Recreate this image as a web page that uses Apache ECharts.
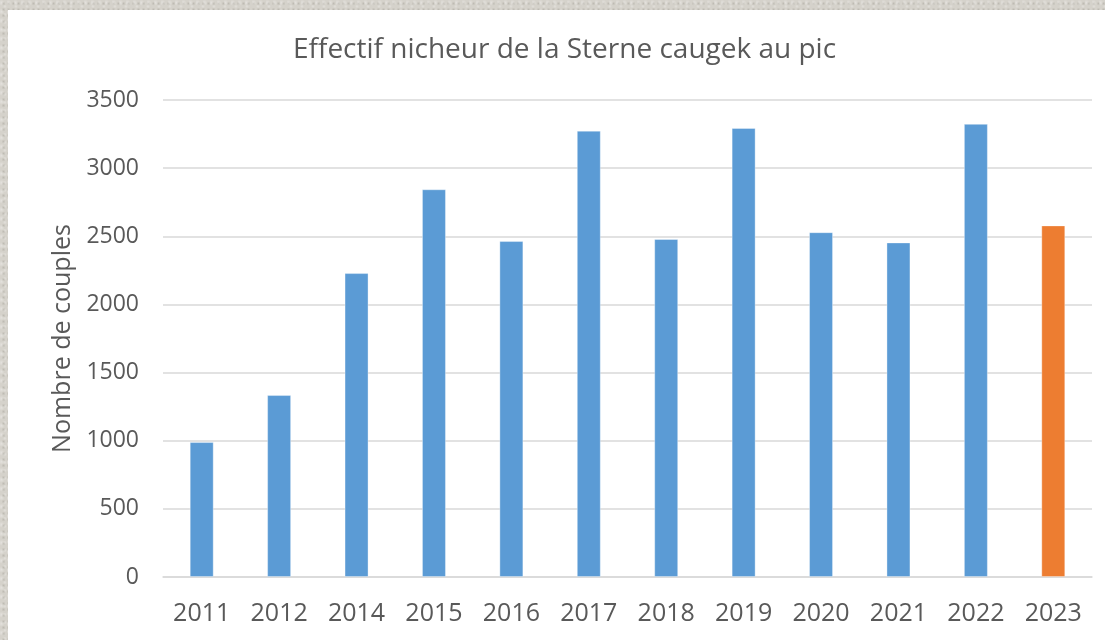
<!DOCTYPE html>
<html>
<head>
<meta charset="utf-8">
<title>Effectif nicheur de la Sterne caugek au pic</title>
<script src="https://cdn.jsdelivr.net/npm/echarts@6/dist/echarts.min.js"></script>
<style>
  html, body { margin: 0; padding: 0; width: 1105px; height: 640px; overflow: hidden; }
  body {
    background-color: #d5d2cb;
    background-image:
      radial-gradient(circle at 20% 30%, rgba(255,255,255,0.35) 0, rgba(255,255,255,0) 3px),
      radial-gradient(circle at 70% 60%, rgba(120,115,105,0.25) 0, rgba(120,115,105,0) 2px),
      radial-gradient(circle at 45% 80%, rgba(255,255,255,0.3) 0, rgba(255,255,255,0) 2px);
    background-size: 7px 9px, 5px 6px, 11px 8px;
  }
  #panel {
    position: absolute; left: 8px; top: 10px; width: 1097px; height: 630px;
    background: #ffffff;
  }
  #chart { width: 100%; height: 100%; }
</style>
</head>
<body>
<div id="panel"><div id="chart"></div></div>
<script>
// Nesting pairs of Sandwich tern (Sterne caugek) counted at the peak, per year
const years = ['2011', '2012', '2014', '2015', '2016', '2017', '2018', '2019', '2020', '2021', '2022', '2023'];
const couples = [990, 1335, 2230, 2845, 2465, 3275, 2480, 3295, 2530, 2455, 3325, 2580];
const currentYear = '2023';
const yTicks = [0, 500, 1000, 1500, 2000, 2500, 3000, 3500];

const blue = '#5B9BD5';
const orange = '#ED7D31';
const textGrey = '#595959';
const gridGrey = '#D9D9D9';
const fontFamily = '"Open Sans", "Segoe UI", sans-serif';

const barData = couples.map((v, i) => ({
  value: v,
  itemStyle: { color: years[i] === currentYear ? orange : blue }
}));

const chart = echarts.init(document.getElementById('chart'), null, { renderer: 'canvas' });
chart.setOption({
  animation: false,
  backgroundColor: '#ffffff',
  title: {
    text: 'Effectif nicheur de la Sterne caugek au pic',
    left: 280,
    top: 21,
    textStyle: { fontFamily, fontSize: 28, fontWeight: 'normal', color: textGrey }
  },
  grid: { left: 155, right: 13, top: 90, bottom: 63 },
  xAxis: {
    type: 'category',
    data: years,
    axisLine: { show: true, lineStyle: { color: gridGrey, width: 1.5 } },
    axisTick: { show: false },
    axisLabel: { color: textGrey, fontFamily, fontSize: 25, margin: 24, interval: 0 }
  },
  yAxis: {
    type: 'value',
    min: yTicks[0],
    max: yTicks[yTicks.length - 1],
    interval: yTicks[1] - yTicks[0],
    name: 'Nombre de couples',
    nameLocation: 'middle',
    nameGap: 87,
    nameRotate: 90,
    nameTextStyle: { color: textGrey, fontFamily, fontSize: 25 },
    axisLine: { show: false },
    axisTick: { show: false },
    splitLine: { lineStyle: { color: gridGrey, width: 1.5 } },
    axisLabel: { color: textGrey, fontFamily, fontSize: 23, margin: 24, formatter: v => String(v) }
  },
  series: [{
    type: 'bar',
    data: barData,
    barWidth: 24,
    itemStyle: { borderColor: 'rgba(255,255,255,0.35)', borderWidth: 1 }
  }]
});
</script>
</body>
</html>
